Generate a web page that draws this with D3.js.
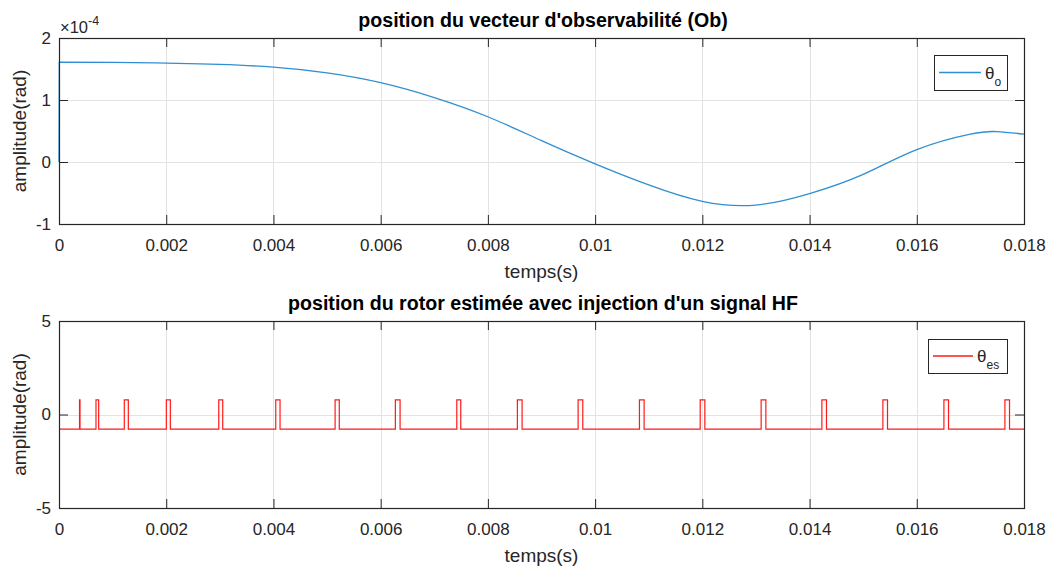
<!DOCTYPE html>
<html><head><meta charset="utf-8">
<script src="https://cdn.jsdelivr.net/npm/d3@7"></script>
<style>
body{margin:0;background:#fff}
svg{display:block}
text{font-family:"Liberation Sans",Arial,Helvetica,sans-serif;fill:#262626}
</style>
</head><body>
<svg id="chart" width="1051" height="570"></svg>
<script>
// ---------- data ----------
const xTicks = [0,0.002,0.004,0.006,0.008,0.010,0.012,0.014,0.016,0.018];
const xTickLabels = ["0","0.002","0.004","0.006","0.008","0.01","0.012","0.014","0.016","0.018"];
const y1Ticks = [-1e-4,0,1e-4,2e-4];
const y1TickLabels = ["-1","0","1","2"];
const y2Ticks = [-5,0,5];
const y2TickLabels = ["-5","0","5"];

// initial value at t=0 then the smooth trajectory
const obsStart = [0, 0];
const obsTime = [0.000005,0.001,0.002,0.003,0.004,0.005,0.006,0.007,0.008,0.009,0.010,0.011,0.012,0.013,0.014,0.015,0.016,0.017,0.0175,0.018];
const obsTheta = [1.61e-4,1.606e-4,1.596e-4,1.574e-4,1.530e-4,1.438e-4,1.28e-4,1.04e-4,0.73e-4,0.345e-4,-0.03e-4,-0.37e-4,-0.635e-4,-0.695e-4,-0.51e-4,-0.20e-4,0.20e-4,0.45e-4,0.49e-4,0.45e-4];

const pulseStart = [0.000383,0.000690,0.001218,0.002002,0.002980,0.004043,0.005150,0.006274,0.007420,0.008550,0.009683,0.010827,0.011960,0.013097,0.014230,0.015368,0.016506,0.017644];
const pulseEnd   = [0.000392,0.000740,0.001293,0.002077,0.003054,0.004123,0.005228,0.006362,0.007494,0.008638,0.009770,0.010914,0.012047,0.013185,0.014316,0.015454,0.016592,0.017730];
const thetaLow = -0.785;
const thetaHigh = 0.785;

const title1 = "position du vecteur d'observabilité (Ob)";
const title2 = "position du rotor estimée avec injection d'un signal HF";
const xLabel = "temps(s)";
const yLabel = "amplitude(rad)";

// ---------- drawing ----------
const svg = d3.select("#chart");
const L = 59, R = 1024;
const panels = [
  {top:38, bottom:224, domain:[-1e-4,2e-4], ticks:y1Ticks, labels:y1TickLabels, title:title1},
  {top:321, bottom:508, domain:[-5,5], ticks:y2Ticks, labels:y2TickLabels, title:title2}
];
const x = d3.scaleLinear().domain([0,0.018]).range([L,R]);
const AX = "#262626", GRID = "#e3e3e3", TICK = 9;

panels.forEach(p => {
  p.y = d3.scaleLinear().domain(p.domain).range([p.bottom,p.top]);
  const g = svg.append("g");
  g.selectAll(".gx").data(xTicks).join("line")
    .attr("x1",d=>Math.round(x(d))+0.5).attr("x2",d=>Math.round(x(d))+0.5)
    .attr("y1",p.top).attr("y2",p.bottom).attr("stroke",GRID).attr("stroke-width",1);
  g.selectAll(".gy").data(p.ticks).join("line")
    .attr("y1",d=>Math.round(p.y(d))+0.5).attr("y2",d=>Math.round(p.y(d))+0.5)
    .attr("x1",L).attr("x2",R).attr("stroke",GRID).attr("stroke-width",1);
  p.g = g;
});

// series 1
const p1 = panels[0];
const smooth = d3.line().x((d,i)=>x(obsTime[i])).y(d=>p1.y(d)).curve(d3.curveNatural);
const path1 = `M${x(obsStart[0])},${p1.y(obsStart[1])}L` + smooth(obsTheta).slice(1);
p1.g.append("path").attr("d", path1)
  .attr("fill","none").attr("stroke","#2f8fd2").attr("stroke-width",1.3);

// series 2 (step pulses)
const p2 = panels[1];
const pts = [[0,thetaLow]];
pulseStart.forEach((s,i)=>{
  pts.push([s,thetaLow],[s,thetaHigh],[pulseEnd[i],thetaHigh],[pulseEnd[i],thetaLow]);
});
pts.push([0.018,thetaLow]);
const line2 = d3.line().x(d=>x(d[0])).y(d=>p2.y(d[1]));
p2.g.append("path").attr("d", line2(pts))
  .attr("fill","none").attr("stroke","#ff1a1a").attr("stroke-width",1.2);

panels.forEach((p,pi) => {
  const g = svg.append("g");
  const xb = g.append("g").attr("transform",`translate(0,${p.bottom})`)
    .call(d3.axisBottom(x).tickValues(xTicks).tickFormat((d,i)=>xTickLabels[i]).tickSize(-TICK).tickPadding(15));
  const xt = g.append("g").attr("transform",`translate(0,${p.top})`)
    .call(d3.axisTop(x).tickValues(xTicks).tickFormat("").tickSize(-TICK));
  const yl = g.append("g").attr("transform",`translate(${L},0)`)
    .call(d3.axisLeft(p.y).tickValues(p.ticks).tickFormat((d,i)=>p.labels[i]).tickSize(-TICK).tickPadding(8));
  const yr = g.append("g").attr("transform",`translate(${R},0)`)
    .call(d3.axisRight(p.y).tickValues(p.ticks).tickFormat("").tickSize(-TICK));
  [xb,xt,yl,yr].forEach(a=>{
    a.select(".domain").remove();
    a.selectAll(".tick line").attr("stroke",AX).attr("stroke-width",1);
    a.selectAll(".tick text").attr("fill",AX).style("font-size","17px").style("font-family",'"Liberation Sans",Arial,sans-serif');
  });
  g.append("rect").attr("x",L+0.5).attr("y",p.top+0.5).attr("width",R-L).attr("height",p.bottom-p.top)
    .attr("fill","none").attr("stroke",AX).attr("stroke-width",1.2);
  g.append("text").attr("x",(L+R)/2).attr("y",p.bottom+54).attr("text-anchor","middle")
    .style("font-size","19px").text(xLabel);
  g.append("text").attr("transform",`translate(26,${(p.top+p.bottom)/2}) rotate(-90)`)
    .attr("text-anchor","middle").style("font-size","19px").text(yLabel);
  g.append("text").attr("x",543).attr("y",p.top-11).attr("text-anchor","middle")
    .style("font-size","19.6px").style("font-weight","bold").style("fill","#000").text(p.title);
});

// exponent
const ex = svg.append("text").attr("x",60).attr("y",33).style("font-size","16.5px");
ex.append("tspan").text("×10");
ex.append("tspan").attr("dy",-8).style("font-size","12.5px").text("-4");

// legends
function legend(x0,y0,w,h,color,sub,lineLen){
  const g = svg.append("g");
  g.append("rect").attr("x",x0+0.5).attr("y",y0+0.5).attr("width",w).attr("height",h)
    .attr("fill","#fff").attr("stroke",AX).attr("stroke-width",1);
  g.append("line").attr("x1",x0+5).attr("x2",x0+5+lineLen).attr("y1",y0+h/2).attr("y2",y0+h/2)
    .attr("stroke",color).attr("stroke-width",1.3);
  const t = g.append("text").attr("x",x0+lineLen+9).attr("y",y0+h/2+6).style("font-size","17px");
  t.append("tspan").text("θ");
  t.append("tspan").attr("dy",7).style("font-size","12px").text(sub);
}
legend(934,55,73,35,"#2f8fd2","o",42);
legend(928,339,79,34,"#ff1a1a","es",40);
</script>
</body></html>
